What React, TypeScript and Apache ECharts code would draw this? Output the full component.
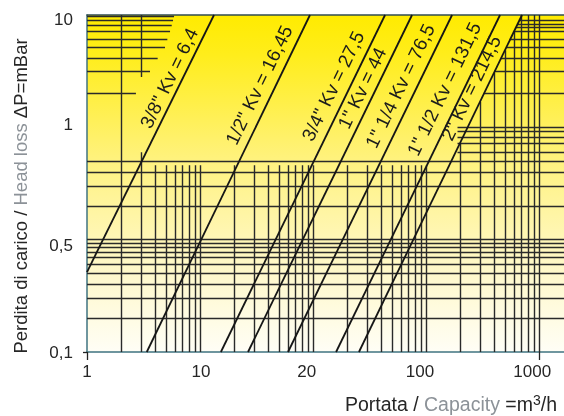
import React, { useEffect, useRef } from "react";
import * as echarts from "echarts";

// ---- axis ranges of the log sheet ----
const qMin = 1;
const qMax = 16640;
const dpMin = 0.1;
const dpMax = 100;

// ---- tick labels (text as printed, and where they sit) ----
const xTickLabels = ["1", "10", "20", "100", "1000"];
const xTickValues = [1, 10.2, 88, 885, 8700];
const yTickLabels = ["0,1", "0,5", "1", "10"];
const yTickValues = [0.1, 0.88, 10.5, 91];
const xTickMarks = [1, 10000];
const yTickMarks = [0.1];

// ---- Kv lines ----
const kvNames = [
  '3/8" Kv = 6,4',
  '1/2" Kv = 16,45',
  '3/4" Kv = 27,5',
  '1" Kv = 44',
  '1" 1/4 Kv = 76,5',
  '1" 1/2 Kv = 131,5',
  '2" Kv = 214,5',
];
const kvFrom = [
  [1, 0.515],
  [3.38, 0.1],
  [15.3, 0.1],
  [26.6, 0.1],
  [60.1, 0.1],
  [160, 0.1],
  [255, 0.1],
];
const kvTo = [
  [13.3, 100],
  [94, 100],
  [434, 100],
  [752, 100],
  [1700, 100],
  [4520, 100],
  [7070, 100],
];

// ---- printed grid: vertical segments [q, dpLow, dpHigh] ----
const vGrid = [
  [2, 0.1, 100],
  [3, 28, 100],
  [3, 0.1, 6],
  [4, 0.1, 4.6],
  [5, 0.1, 4.6],
  [6, 0.1, 4.6],
  [7, 0.1, 4.6],
  [8, 0.1, 4.6],
  [9, 0.1, 4.6],
  [10, 0.1, 4.6],
  [20, 0.1, 4.6],
  [30, 0.1, 4.6],
  [40, 0.1, 4.6],
  [50, 0.1, 4.6],
  [60, 0.1, 4.6],
  [70, 0.1, 4.6],
  [80, 0.1, 4.6],
  [90, 0.1, 4.6],
  [100, 0.1, 4.6],
  [200, 0.1, 4.6],
  [300, 0.1, 4.6],
  [400, 0.1, 4.6],
  [500, 0.1, 4.6],
  [600, 0.1, 4.6],
  [700, 0.1, 4.6],
  [800, 0.1, 4.6],
  [900, 0.1, 4.6],
  [1000, 0.1, 4.6],
  [2000, 0.1, 7.2],
  [3000, 0.1, 16.8],
  [4000, 0.1, 30.5],
  [5000, 0.1, 48.6],
  [6000, 0.1, 71],
  [7000, 0.1, 100],
  [8000, 0.1, 100],
  [9000, 0.1, 100],
  [10000, 0.1, 100],
];

// ---- printed grid: horizontal segments [dp, qLow, qHigh] ----
const hGrid = [
  [0.2, 1, 16640],
  [0.3, 1, 16640],
  [0.4, 1, 16640],
  [0.5, 1, 16640],
  [0.6, 1, 16640],
  [0.7, 1, 16640],
  [0.77, 1, 16640],
  [0.85, 1, 16640],
  [0.93, 1, 16640],
  [1.0, 1, 16640],
  [2, 1, 16640],
  [3, 1, 16640],
  [4, 1, 16640],
  [5, 1, 16640],
  [6, 1900, 16640],
  [7.2, 1900, 16640],
  [8.15, 1900, 16640],
  [9.14, 1900, 16640],
  [10.1, 1900, 16640],
  [20.3, 1, 2.71],
  [31.3, 1, 3.61],
  [41.2, 1, 4.22],
  [51.6, 1, 4.9],
  [60.8, 1, 5.14],
  [71, 1, 5.43],
  [81.5, 1, 5.62],
  [89, 1, 5.77],
  [96.6, 1, 5.89],
  [20.3, 3262, 16640],
  [31.3, 4013, 16640],
  [41.2, 4590, 16640],
  [51.6, 5100, 16640],
  [60.8, 5535, 16640],
  [71, 5985, 16640],
  [77.7, 6260, 16640],
  [83.2, 6466, 16640],
  [90.3, 6717, 16640],
];

// label placement (layout only)
const kvLabelPos = [
  [169, 78],
  [259, 85],
  [333, 86],
  [362, 88],
  [400, 86],
  [444, 89],
  [471, 88],
];

const FONT = '"Liberation Sans", Arial, Helvetica, sans-serif';
const DARK = "#262626";
const GRAY = "#8c9298";

export default function App() {
  const ref = useRef<HTMLDivElement>(null);

  useEffect(() => {
    if (!ref.current) return;
    const chart = echarts.init(ref.current, null, { renderer: "svg" });

    const gridData = [
      ...vGrid.map((v) => ({ coords: [[v[0], v[1]], [v[0], v[2]]] })),
      ...hGrid.map((h) => ({ coords: [[h[1], h[0]], [h[2], h[0]]] })),
    ];

    const kvSeries = kvNames.map((name, i) => ({
      type: "line",
      name,
      data: [kvFrom[i], kvTo[i]],
      symbol: "none",
      z: 5,
      lineStyle: { color: "#161616", width: 1.8 },
    }));

    const labelGraphics = kvNames.map((name, i) => ({
      type: "text",
      x: kvLabelPos[i][0],
      y: kvLabelPos[i][1],
      rotation: (64.1 * Math.PI) / 180,
      z: 10,
      style: {
        text: name,
        fontFamily: FONT,
        fontSize: 19,
        fill: "#1c1c1c",
        align: "center",
        verticalAlign: "middle",
      },
    }));

    chart.setOption({
      animation: false,
      grid: {
        left: 87,
        right: 0,
        top: 15,
        bottom: 64,
        show: true,
        borderWidth: 0,
        backgroundColor: {
          type: "linear",
          x: 0,
          y: 0,
          x2: 0,
          y2: 1,
          colorStops: [
            { offset: 0, color: "#ffeb00" },
            { offset: 0.12, color: "#ffed1c" },
            { offset: 0.43, color: "#fff27e" },
            { offset: 0.7, color: "#fff7bf" },
            { offset: 1, color: "#fffef6" },
          ],
        },
      },
      xAxis: [
        {
          type: "log",
          logBase: 10,
          min: qMin,
          max: qMax,
          position: "bottom",
          axisLine: { show: true, lineStyle: { color: "#3f7380", width: 1.5 } },
          axisTick: {
            show: true,
            customValues: xTickMarks,
            length: 8,
            lineStyle: { color: "#222", width: 1.3 },
          },
          axisLabel: {
            show: true,
            customValues: xTickValues,
            margin: 11,
            fontFamily: FONT,
            fontSize: 17,
            color: DARK,
            formatter: (v: number) => {
              const idx = xTickValues.findIndex((t) => Math.abs(t - v) / t < 0.01);
              return idx >= 0 ? xTickLabels[idx] : "";
            },
          },
          splitLine: { show: false },
          minorSplitLine: { show: false },
        },
        {
          type: "log",
          logBase: 10,
          min: qMin,
          max: qMax,
          position: "top",
          axisLine: { show: true, lineStyle: { color: "#2f4b52", width: 1.5 } },
          axisTick: { show: false },
          axisLabel: { show: false },
          splitLine: { show: false },
        },
      ],
      yAxis: {
        type: "log",
        logBase: 10,
        min: dpMin,
        max: dpMax,
        axisLine: { show: true, lineStyle: { color: "#3f7380", width: 1.5 } },
        axisTick: {
          show: true,
          customValues: yTickMarks,
          length: 4,
          lineStyle: { color: "#222", width: 1.3 },
        },
        axisLabel: {
          show: true,
          customValues: yTickValues,
          margin: 14,
          fontFamily: FONT,
          fontSize: 17,
          color: DARK,
          formatter: (v: number) => {
            const idx = yTickValues.findIndex((t) => Math.abs(t - v) / t < 0.01);
            return idx >= 0 ? yTickLabels[idx] : "";
          },
        },
        splitLine: { show: false },
      },
      series: [
        {
          type: "lines",
          coordinateSystem: "cartesian2d",
          polyline: false,
          z: 2,
          lineStyle: { color: "#2a2a2a", width: 1.4, opacity: 1 },
          data: gridData,
        },
        ...kvSeries,
      ],
      graphic: [
        ...labelGraphics,
        {
          type: "text",
          x: 20,
          y: 196,
          rotation: Math.PI / 2,
          style: {
            text: "{d|Perdita di carico / }{g|Head loss }{d|ΔP=mBar}",
            align: "center",
            verticalAlign: "middle",
            rich: {
              d: { fontFamily: FONT, fontSize: 18.5, fill: DARK, color: DARK },
              g: { fontFamily: FONT, fontSize: 18.5, fill: GRAY, color: GRAY },
            },
          },
        },
        {
          type: "text",
          x: 557,
          y: 404,
          style: {
            text: "{d|Portata / }{g|Capacity}{d| =m}{s|3}{d|/h}",
            align: "right",
            verticalAlign: "middle",
            rich: {
              d: { fontFamily: FONT, fontSize: 19.5, fill: DARK, color: DARK },
              g: { fontFamily: FONT, fontSize: 19.5, fill: GRAY, color: GRAY },
              s: {
                fontFamily: FONT,
                fontSize: 14,
                fill: DARK,
                color: DARK,
                padding: [0, 0, 8, 0],
              },
            },
          },
        },
      ],
    });

    return () => chart.dispose();
  }, []);

  return (
    <div
      ref={ref}
      style={{ position: "fixed", left: 0, top: 0, width: 564, height: 416 }}
    />
  );
}
